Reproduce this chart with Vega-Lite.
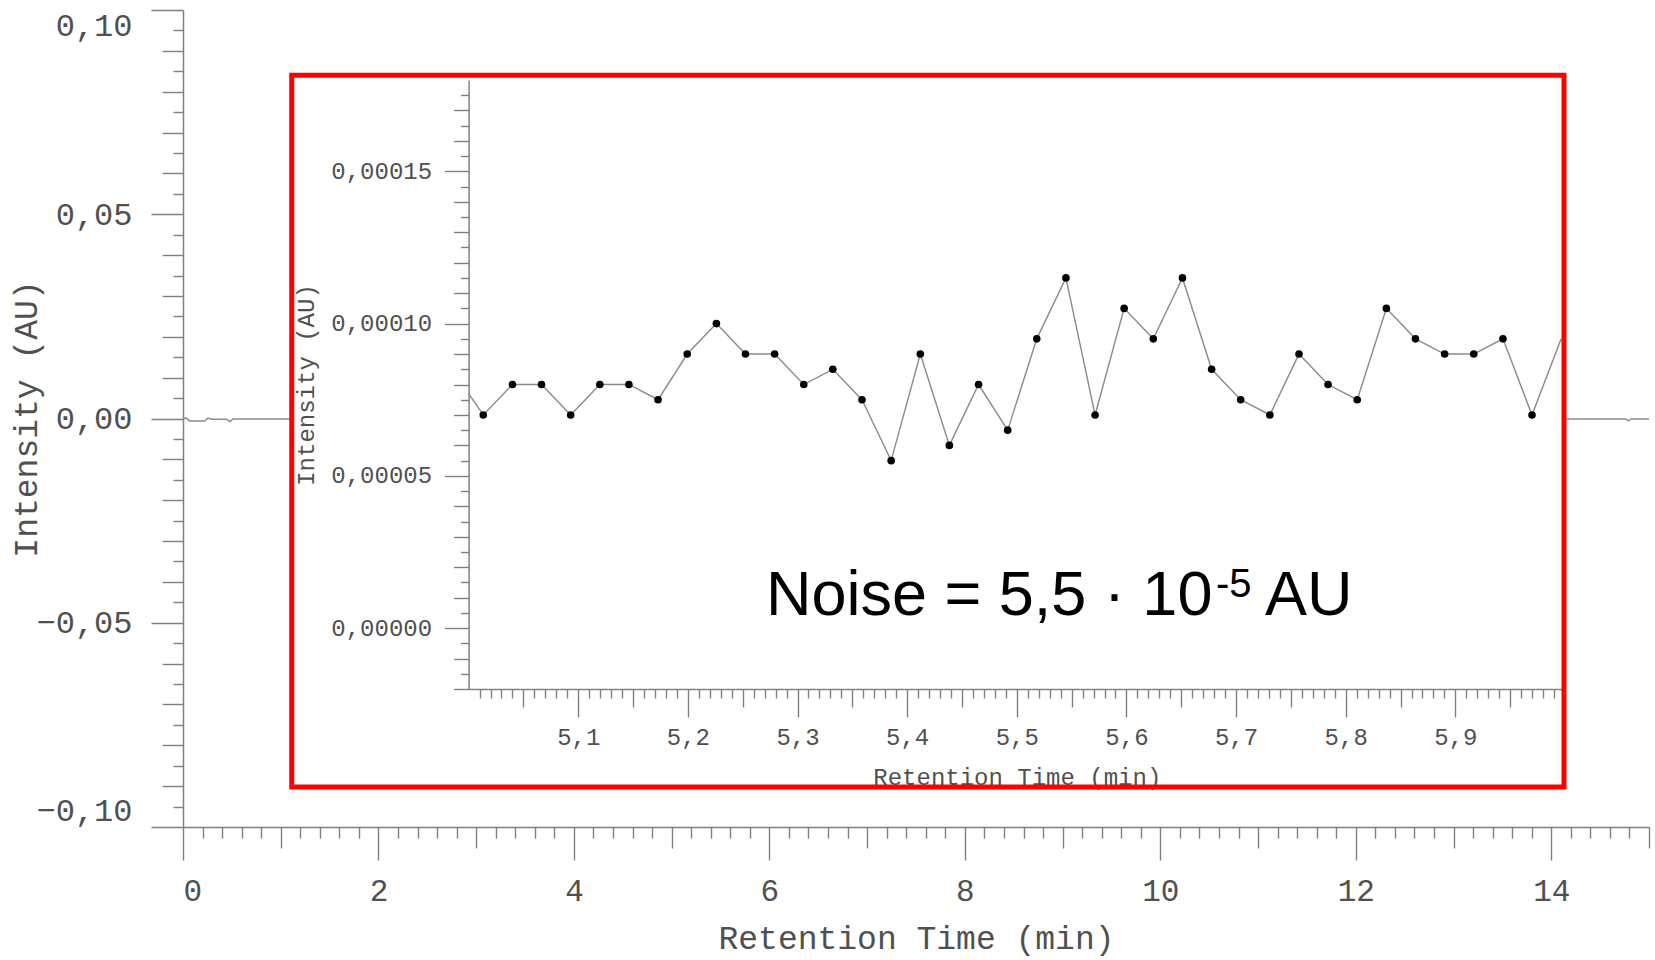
{
  "$schema": "https://vega.github.io/schema/vega-lite/v6.json",
  "width": 1466,
  "height": 817,
  "padding": {"left": 183, "top": 10, "right": 6, "bottom": 133},
  "autosize": {"type": "none"},
  "background": "white",
  "config": {
    "view": {"stroke": null},
    "axis": {
      "grid": false,
      "domainColor": "#808080",
      "domainWidth": 1.5,
      "tickColor": "#808080",
      "tickWidth": 1.4,
      "labelColor": "#505050",
      "titleColor": "#505050",
      "labelFont": "Liberation Mono",
      "titleFont": "Liberation Mono",
      "titleFontWeight": "normal",
      "labelOverlap": false,
      "labelBound": false
    }
  },
  "datasets": {
    "main": [
      {"t": 0, "v": 0, "part": "a"},
      {"t": 0.03, "v": 0.0001, "part": "a"},
      {"t": 0.07, "v": -0.0006, "part": "a"},
      {"t": 0.22, "v": -0.0006, "part": "a"},
      {"t": 0.255, "v": 0.0001, "part": "a"},
      {"t": 0.29, "v": -0.0002, "part": "a"},
      {"t": 0.45, "v": -0.0002, "part": "a"},
      {"t": 0.48, "v": -0.0008, "part": "a"},
      {"t": 0.51, "v": -0.0001, "part": "a"},
      {"t": 1.1126, "v": -0.0001, "part": "a"},
      {"t": 14.13, "v": -0.0001, "part": "b"},
      {"t": 14.76, "v": -0.0001, "part": "b"},
      {"t": 14.79, "v": -0.0006, "part": "b"},
      {"t": 14.82, "v": -0.0001, "part": "b"},
      {"t": 15, "v": -0.0001, "part": "b"}
    ],
    "inner": [
      {"t": 5.0, "v": 7.7e-5},
      {"t": 5.0134, "v": 7.0e-5},
      {"t": 5.0400, "v": 8.0e-5},
      {"t": 5.0665, "v": 8.0e-5},
      {"t": 5.0931, "v": 7.0e-5},
      {"t": 5.1197, "v": 8.0e-5},
      {"t": 5.1462, "v": 8.0e-5},
      {"t": 5.1728, "v": 7.5e-5},
      {"t": 5.1994, "v": 9.0e-5},
      {"t": 5.2260, "v": 1.0e-4},
      {"t": 5.2525, "v": 9.0e-5},
      {"t": 5.2791, "v": 9.0e-5},
      {"t": 5.3057, "v": 8.0e-5},
      {"t": 5.3322, "v": 8.5e-5},
      {"t": 5.3588, "v": 7.5e-5},
      {"t": 5.3854, "v": 5.5e-5},
      {"t": 5.4120, "v": 9.0e-5},
      {"t": 5.4385, "v": 6.0e-5},
      {"t": 5.4651, "v": 8.0e-5},
      {"t": 5.4917, "v": 6.5e-5},
      {"t": 5.5182, "v": 9.5e-5},
      {"t": 5.5448, "v": 1.15e-4},
      {"t": 5.5714, "v": 7.0e-5},
      {"t": 5.5979, "v": 1.05e-4},
      {"t": 5.6245, "v": 9.5e-5},
      {"t": 5.6511, "v": 1.15e-4},
      {"t": 5.6777, "v": 8.5e-5},
      {"t": 5.7042, "v": 7.5e-5},
      {"t": 5.7308, "v": 7.0e-5},
      {"t": 5.7574, "v": 9.0e-5},
      {"t": 5.7839, "v": 8.0e-5},
      {"t": 5.8105, "v": 7.5e-5},
      {"t": 5.8371, "v": 1.05e-4},
      {"t": 5.8636, "v": 9.5e-5},
      {"t": 5.8902, "v": 9.0e-5},
      {"t": 5.9168, "v": 9.0e-5},
      {"t": 5.9434, "v": 9.5e-5},
      {"t": 5.9699, "v": 7.0e-5},
      {"t": 5.9965, "v": 9.5e-5}
    ]
  },
  "layer": [
    {
      "data": {"name": "main"},
      "mark": {"type": "line", "color": "#8c8c8c", "strokeWidth": 1.5},
      "encoding": {
        "detail": {"field": "part"},
        "x": {
          "field": "t", "type": "quantitative",
          "scale": {"domain": [0, 15], "nice": false, "zero": false},
          "axis": {
            "orient": "bottom",
            "values": [0,0.2,0.4,0.6,0.8,1,1.2,1.4,1.6,1.8,2,2.2,2.4,2.6,2.8,3,3.2,3.4,3.6,3.8,4,4.2,4.4,4.6,4.8,5,5.2,5.4,5.6,5.8,6,6.2,6.4,6.6,6.8,7,7.2,7.4,7.6,7.8,8,8.2,8.4,8.6,8.8,9,9.2,9.4,9.6,9.8,10,10.2,10.4,10.6,10.8,11,11.2,11.4,11.6,11.8,12,12.2,12.4,12.6,12.8,13,13.2,13.4,13.6,13.8,14,14.2,14.4,14.6,14.8,15],
            "tickSize": {"condition": [
              {"test": "abs(datum.value - 2*round(datum.value/2)) < 0.01", "value": 33},
              {"test": "abs(datum.value - round(datum.value)) < 0.01", "value": 21}
            ], "value": 11},
            "labelExpr": "abs(datum.value - 2*round(datum.value/2)) < 0.01 ? format(datum.value, 'd') : ''",
            "labelFontSize": 31,
            "labelPadding": 16,
            "labelFlush": true,
            "title": "Retention Time (min)",
            "titleFontSize": 33,
            "titlePadding": 16
          }
        },
        "y": {
          "field": "v", "type": "quantitative",
          "scale": {"domain": [-0.1, 0.1], "nice": false, "zero": false},
          "axis": {
            "orient": "left",
            "values": [-0.1,-0.095,-0.09,-0.085,-0.08,-0.075,-0.07,-0.065,-0.06,-0.055,-0.05,-0.045,-0.04,-0.035,-0.03,-0.025,-0.02,-0.015,-0.01,-0.005,0,0.005,0.01,0.015,0.02,0.025,0.03,0.035,0.04,0.045,0.05,0.055,0.06,0.065,0.07,0.075,0.08,0.085,0.09,0.095,0.1],
            "tickSize": {"condition": [
              {"test": "abs(datum.value*20 - round(datum.value*20)) < 0.01", "value": 32},
              {"test": "abs(datum.value*100 - round(datum.value*100)) < 0.01", "value": 21}
            ], "value": 10},
            "labelExpr": "abs(datum.value*20 - round(datum.value*20)) < 0.01 ? replace(format(datum.value, '.2f'), '.', ',') : ''",
            "labelFontSize": 32,
            "labelPadding": 19,
            "labelFlush": true,
            "title": "Intensity (AU)",
            "titleFontSize": 33,
            "titlePadding": -8
          }
        }
      }
    },
    {
      "data": {"name": "inner"},
      "mark": {"type": "line", "color": "#8a8a8a", "strokeWidth": 1.4},
      "encoding": {
        "x": {
          "field": "t", "type": "quantitative",
          "scale": {"domain": [5, 6], "range": [285.6, 1382], "nice": false, "zero": false},
          "axis": {
            "orient": "bottom",
            "offset": -138,
            "values": [5.01,5.02,5.03,5.04,5.05,5.06,5.07,5.08,5.09,5.1,5.11,5.12,5.13,5.14,5.15,5.16,5.17,5.18,5.19,5.2,5.21,5.22,5.23,5.24,5.25,5.26,5.27,5.28,5.29,5.3,5.31,5.32,5.33,5.34,5.35,5.36,5.37,5.38,5.39,5.4,5.41,5.42,5.43,5.44,5.45,5.46,5.47,5.48,5.49,5.5,5.51,5.52,5.53,5.54,5.55,5.56,5.57,5.58,5.59,5.6,5.61,5.62,5.63,5.64,5.65,5.66,5.67,5.68,5.69,5.7,5.71,5.72,5.73,5.74,5.75,5.76,5.77,5.78,5.79,5.8,5.81,5.82,5.83,5.84,5.85,5.86,5.87,5.88,5.89,5.9,5.91,5.92,5.93,5.94,5.95,5.96,5.97,5.98,5.99],
            "tickSize": {"condition": [
              {"test": "abs(datum.value*10 - round(datum.value*10)) < 0.01", "value": 28},
              {"test": "abs(datum.value*20 - round(datum.value*20)) < 0.01", "value": 18}
            ], "value": 9},
            "labelExpr": "abs(datum.value*10 - round(datum.value*10)) < 0.01 ? replace(format(datum.value, '.1f'), '.', ',') : ''",
            "labelFontSize": 24,
            "labelPadding": 8,
            "labelFlush": false,
            "title": "Retention Time (min)",
            "titleFontSize": 24,
            "titlePadding": 16
          }
        },
        "y": {
          "field": "v", "type": "quantitative",
          "scale": {"domain": [-0.00002, 0.00018], "range": [679, 70], "nice": false, "zero": false},
          "axis": {
            "orient": "left",
            "offset": -285.6,
            "values": [-2e-5,-1.5e-5,-1e-5,-5e-6,0,5e-6,1e-5,1.5e-5,2e-5,2.5e-5,3e-5,3.5e-5,4e-5,4.5e-5,5e-5,5.5e-5,6e-5,6.5e-5,7e-5,7.5e-5,8e-5,8.5e-5,9e-5,9.5e-5,1e-4,1.05e-4,1.1e-4,1.15e-4,1.2e-4,1.25e-4,1.3e-4,1.35e-4,1.4e-4,1.45e-4,1.5e-4,1.55e-4,1.6e-4,1.65e-4,1.7e-4,1.75e-4],
            "tickSize": {"condition": [
              {"test": "abs(datum.value*20000 - round(datum.value*20000)) < 0.01", "value": 24},
              {"test": "abs(datum.value*100000 - round(datum.value*100000)) < 0.01", "value": 15}
            ], "value": 8},
            "labelExpr": "abs(datum.value*20000 - round(datum.value*20000)) < 0.01 ? replace(format(datum.value, '.5f'), '.', ',') : ''",
            "labelFontSize": 24,
            "labelPadding": 13,
            "labelFlush": false,
            "title": "Intensity (AU)",
            "titleFontSize": 24,
            "titlePadding": 12
          }
        }
      }
    },
    {
      "data": {"name": "inner"},
      "transform": [{"filter": "datum.t > 5.001 && datum.t < 5.99"}],
      "mark": {"type": "point", "filled": true, "color": "black", "opacity": 1, "size": 58},
      "encoding": {
        "x": {"field": "t", "type": "quantitative", "scale": {"domain": [5, 6], "range": [285.6, 1382], "nice": false, "zero": false}, "axis": null},
        "y": {"field": "v", "type": "quantitative", "scale": {"domain": [-0.00002, 0.00018], "range": [679, 70], "nice": false, "zero": false}, "axis": null}
      }
    },
    {
      "data": {"values": [{"name": "inset"}]},
      "mark": {"type": "rect", "fillOpacity": 0, "stroke": "#ff0000", "strokeWidth": 5},
      "encoding": {
        "x": {"datum": 1.1126, "type": "quantitative", "scale": {"domain": [0, 15], "nice": false, "zero": false}, "axis": null},
        "x2": {"datum": 14.13},
        "y": {"datum": 0.084, "type": "quantitative", "scale": {"domain": [-0.1, 0.1], "nice": false, "zero": false}, "axis": null},
        "y2": {"datum": -0.0902}
      }
    },
    {
      "data": {"values": [{"label": "Noise = 5,5 · 10"}]},
      "mark": {"type": "text", "align": "left", "baseline": "alphabetic", "font": "Liberation Sans", "fontSize": 63, "color": "black"},
      "encoding": {
        "x": {"datum": 5.2712, "type": "quantitative", "scale": {"domain": [5, 6], "range": [285.6, 1382], "nice": false, "zero": false}, "axis": null},
        "y": {"datum": 4.3e-6, "type": "quantitative", "scale": {"domain": [-0.00002, 0.00018], "range": [679, 70], "nice": false, "zero": false}, "axis": null},
        "text": {"field": "label"}
      }
    },
    {
      "data": {"values": [{"label": "-5"}]},
      "mark": {"type": "text", "align": "left", "baseline": "alphabetic", "font": "Liberation Sans", "fontSize": 40, "color": "black"},
      "encoding": {
        "x": {"datum": 5.6817, "type": "quantitative", "scale": {"domain": [5, 6], "range": [285.6, 1382], "nice": false, "zero": false}, "axis": null},
        "y": {"datum": 1.03e-5, "type": "quantitative", "scale": {"domain": [-0.00002, 0.00018], "range": [679, 70], "nice": false, "zero": false}, "axis": null},
        "text": {"field": "label"}
      }
    },
    {
      "data": {"values": [{"label": "AU"}]},
      "mark": {"type": "text", "align": "left", "baseline": "alphabetic", "font": "Liberation Sans", "fontSize": 63, "color": "black"},
      "encoding": {
        "x": {"datum": 5.7264, "type": "quantitative", "scale": {"domain": [5, 6], "range": [285.6, 1382], "nice": false, "zero": false}, "axis": null},
        "y": {"datum": 4.3e-6, "type": "quantitative", "scale": {"domain": [-0.00002, 0.00018], "range": [679, 70], "nice": false, "zero": false}, "axis": null},
        "text": {"field": "label"}
      }
    }
  ],
  "resolve": {
    "scale": {"x": "independent", "y": "independent"},
    "axis": {"x": "independent", "y": "independent"}
  }
}
